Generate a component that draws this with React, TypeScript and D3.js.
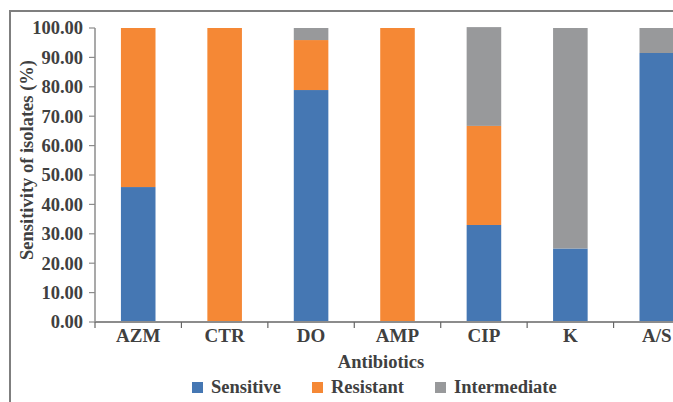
import { useEffect, useRef } from 'react';
import * as d3 from 'd3';

const antibiotics = ['AZM', 'CTR', 'DO', 'AMP', 'CIP', 'K', 'A/S'];
const sensitive = [45.9, 0, 78.9, 0, 33.0, 25.0, 91.5];
const resistant = [54.1, 100, 17.0, 100, 33.7, 0, 0];
const intermediate = [0, 0, 4.1, 0, 33.6, 75.0, 8.5];
const seriesNames = ['Sensitive', 'Resistant', 'Intermediate'];
const seriesColors = ['#4577b3', '#f58835', '#98999b'];
const yTicks = [0, 10, 20, 30, 40, 50, 60, 70, 80, 90, 100];

export default function App() {
  const svgRef = useRef<SVGSVGElement>(null);

  useEffect(() => {
    document.body.style.margin = '0';
    if (!svgRef.current) return;
    const svg = d3.select(svgRef.current);
    svg.selectAll('*').remove();

    const width = 673;
    const height = 402;
    const font = '"Liberation Serif", "Times New Roman", serif';
    const textColor = '#404040';
    const axisColor = '#8c8c8c';

    svg.attr('width', width).attr('height', height);

    // outer frame (runs off the right/bottom edge like the cropped original)
    svg.append('rect')
      .attr('x', 10).attr('y', 11)
      .attr('width', 720).attr('height', 420)
      .attr('fill', 'white')
      .attr('stroke', '#7f7f7f')
      .attr('stroke-width', 2);

    const rows = antibiotics.map((name, i) => ({
      name,
      Sensitive: sensitive[i],
      Resistant: resistant[i],
      Intermediate: intermediate[i]
    }));

    const x = d3.scaleBand<string>()
      .domain(antibiotics)
      .range([95, 700])
      .paddingInner(0.6)
      .paddingOuter(0.3);

    const y = d3.scaleLinear().domain([0, 100]).range([322, 28]);

    const stack = d3.stack<any>().keys(seriesNames);
    const layers = stack(rows);

    const color = d3.scaleOrdinal<string, string>().domain(seriesNames).range(seriesColors);

    svg.append('g')
      .selectAll('g')
      .data(layers)
      .join('g')
      .attr('fill', d => color(d.key))
      .selectAll('rect')
      .data(d => d)
      .join('rect')
      .attr('x', d => x(d.data.name) as number)
      .attr('width', x.bandwidth())
      .attr('y', d => y(d[1]))
      .attr('height', d => Math.max(0, y(d[0]) - y(d[1])));

    // y axis
    const yAxis = svg.append('g').attr('transform', 'translate(95,0)');
    yAxis.append('line')
      .attr('x1', 0).attr('x2', 0)
      .attr('y1', y(100)).attr('y2', y(0))
      .attr('stroke', axisColor).attr('stroke-width', 1.5);
    yAxis.selectAll('line.tick')
      .data(yTicks)
      .join('line')
      .attr('class', 'tick')
      .attr('x1', -6).attr('x2', 0)
      .attr('y1', d => y(d)).attr('y2', d => y(d))
      .attr('stroke', axisColor).attr('stroke-width', 1.2);
    yAxis.selectAll('text')
      .data(yTicks)
      .join('text')
      .attr('x', -12)
      .attr('y', d => y(d))
      .attr('dy', '0.35em')
      .attr('text-anchor', 'end')
      .style('font-family', font)
      .style('font-weight', 'bold')
      .style('font-size', '18.5px')
      .style('fill', textColor)
      .text(d => d3.format('.2f')(d));

    // x axis
    const step = x.step();
    const xAxis = svg.append('g');
    xAxis.append('line')
      .attr('x1', 95).attr('x2', 700)
      .attr('y1', y(0)).attr('y2', y(0))
      .attr('stroke', axisColor).attr('stroke-width', 2);
    xAxis.selectAll('line.tick')
      .data(d3.range(antibiotics.length + 1))
      .join('line')
      .attr('class', 'tick')
      .attr('x1', i => 95 + i * step).attr('x2', i => 95 + i * step)
      .attr('y1', y(0)).attr('y2', y(0) + 6)
      .attr('stroke', '#666').attr('stroke-width', 1.2);
    xAxis.selectAll('text')
      .data(antibiotics)
      .join('text')
      .attr('x', d => (x(d) as number) + x.bandwidth() / 2)
      .attr('y', 342)
      .attr('text-anchor', 'middle')
      .style('font-family', font)
      .style('font-weight', 'bold')
      .style('font-size', '19px')
      .style('fill', textColor)
      .text(d => d);

    // axis titles
    svg.append('text')
      .attr('x', 381)
      .attr('y', 368)
      .attr('text-anchor', 'middle')
      .style('font-family', font)
      .style('font-weight', 'bold')
      .style('font-size', '18.5px')
      .style('fill', textColor)
      .text('Antibiotics');

    svg.append('text')
      .attr('transform', 'translate(33,160) rotate(-90)')
      .attr('text-anchor', 'middle')
      .style('font-family', font)
      .style('font-weight', 'bold')
      .style('font-size', '18.5px')
      .style('fill', textColor)
      .text('Sensitivity of isolates (%)');

    // legend
    const legendX = [192, 312, 435];
    const legend = svg.append('g')
      .selectAll('g')
      .data(seriesNames)
      .join('g')
      .attr('transform', (d, i) => `translate(${legendX[i]},382)`);
    legend.append('rect')
      .attr('width', 11).attr('height', 11)
      .attr('fill', d => color(d));
    legend.append('text')
      .attr('x', 19)
      .attr('y', 11)
      .style('font-family', font)
      .style('font-weight', 'bold')
      .style('font-size', '18.5px')
      .style('fill', textColor)
      .text(d => d);
  }, []);

  return <svg ref={svgRef} style={{ display: 'block' }}></svg>;
}
